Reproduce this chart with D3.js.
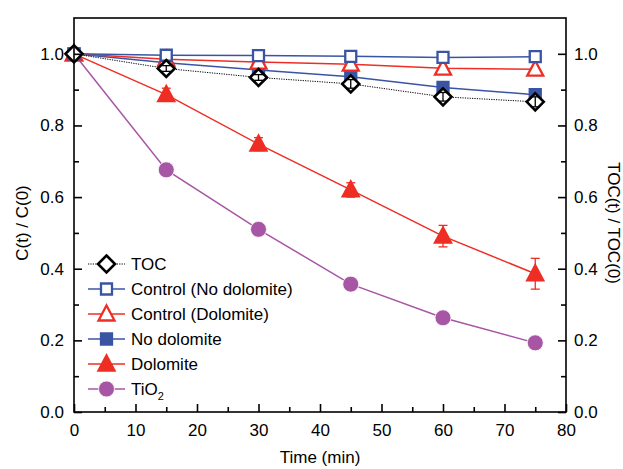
<!DOCTYPE html>
<html>
<head>
<meta charset="utf-8">
<script src="https://cdn.jsdelivr.net/npm/d3@7"></script>
<style>
  html, body { margin: 0; padding: 0; background: #fff; }
  svg { display: block; font-family: Arial, "Liberation Sans", sans-serif; }
</style>
</head>
<body>
<svg id="chart" width="623" height="469"></svg>
<script>
// Sampling times (min)
const times = [0, 15, 30, 45, 60, 75];

// Normalised concentration / TOC series
const tocValues        = [1.0, 0.959, 0.934, 0.916, 0.880, 0.866];
const tocErrors        = [0, 0.008, 0.008, 0.012, 0.012, 0.014];
const ctrlNoDolValues  = [1.0, 0.996, 0.995, 0.993, 0.990, 0.992];
const ctrlDolValues    = [1.0, 0.985, 0.977, 0.971, 0.960, 0.957];
const noDolValues      = [1.0, 0.975, 0.955, 0.936, 0.906, 0.886];
const dolValues        = [1.0, 0.886, 0.748, 0.620, 0.491, 0.386];
const dolErrors        = [0, 0.018, 0.018, 0.020, 0.030, 0.043];
const tio2Values       = [1.0, 0.676, 0.510, 0.357, 0.263, 0.193];

const xTicks = [0, 10, 20, 30, 40, 50, 60, 70, 80];
const yTicks = [0, 0.2, 0.4, 0.6, 0.8, 1.0];

const BLUE = "#3a54a4", RED = "#ee2e24", PURPLE = "#a756a5", BLACK = "#000";

const svg = d3.select("#chart");
const plotLeft = 74, plotRight = 566, plotTop = 18, plotBottom = 412;

const x = d3.scaleLinear().domain([0, 80]).range([plotLeft, plotRight]);
const y = d3.scaleLinear().domain([0, 1.1]).range([plotBottom, plotTop]);

// Series definitions (drawn in this order, TOC last so it sits on top)
const series = [
  { name: "TiO2", values: tio2Values, color: PURPLE, shape: "circle", fill: true, width: 1.5 },
  { name: "Dolomite", values: dolValues, errors: dolErrors, color: RED, shape: "triangle", fill: true, width: 1.5 },
  { name: "No dolomite", values: noDolValues, color: BLUE, shape: "square", fill: true, width: 1.5 },
  { name: "Control (Dolomite)", values: ctrlDolValues, color: RED, shape: "triangle", fill: false, width: 1.5 },
  { name: "Control (No dolomite)", values: ctrlNoDolValues, color: BLUE, shape: "square", fill: false, width: 1.5 },
  { name: "TOC", values: tocValues, errors: tocErrors, color: BLACK, shape: "diamond", fill: false, width: 1, dash: "1.2,1.2" }
];

function markerPath(shape) {
  switch (shape) {
    case "square":   return "M-5.5,-5.5H5.5V5.5H-5.5Z";
    case "triangle": return "M0,-8.5L8,6.5L-8,6.5Z";
    case "diamond":  return "M0,-8.5L8.5,0L0,8.5L-8.5,0Z";
    default: return null;
  }
}

function drawMarker(g, s, cx, cy) {
  if (s.shape === "circle") {
    g.append("circle").attr("cx", cx).attr("cy", cy).attr("r", 8)
      .attr("fill", s.color).attr("stroke", "#fff").attr("stroke-width", 0.8);
  } else {
    g.append("path").attr("d", markerPath(s.shape))
      .attr("transform", `translate(${cx},${cy})`)
      .attr("fill", s.fill ? s.color : "#fff")
      .attr("stroke", s.color)
      .attr("stroke-width", s.shape === "diamond" ? 2.6 : 2.3)
      .attr("stroke-linejoin", "miter");
  }
}

const line = d3.line().x((d, i) => x(times[i])).y(d => y(d));

const plot = svg.append("g");
series.forEach(s => {
  plot.append("path").datum(s.values)
    .attr("d", line)
    .attr("fill", "none")
    .attr("stroke", s.color)
    .attr("stroke-width", s.width)
    .attr("stroke-dasharray", s.dash || null);
});
series.forEach(s => {
  const g = plot.append("g");
  s.values.forEach((v, i) => {
    drawMarker(g, s, x(times[i]), y(v));
    if (s.errors && s.errors[i] > 0) {
      const e = s.errors[i], cx = x(times[i]);
      const eg = g.append("g").attr("stroke", s.shape === "diamond" ? BLACK : s.color).attr("stroke-width", 1.3);
      eg.append("line").attr("x1", cx).attr("x2", cx).attr("y1", y(v + e)).attr("y2", y(v - e));
      eg.append("line").attr("x1", cx - 4.5).attr("x2", cx + 4.5).attr("y1", y(v + e)).attr("y2", y(v + e));
      eg.append("line").attr("x1", cx - 4.5).attr("x2", cx + 4.5).attr("y1", y(v - e)).attr("y2", y(v - e));
    }
  });
});

// Axes with inward ticks
const fontSize = 17;
function styleAxis(g) {
  g.select(".domain").remove();
  g.selectAll("line").attr("stroke", "#000").attr("stroke-width", 1.6);
  g.selectAll("text").attr("font-size", fontSize).attr("fill", "#000");
}
const fmt = d3.format(".1f");

// Bottom
svg.append("g").attr("transform", `translate(0,${plotBottom})`)
  .call(d3.axisBottom(x).tickValues(xTicks).tickSizeInner(-8).tickSizeOuter(0).tickPadding(12))
  .call(styleAxis);
svg.append("g").attr("transform", `translate(0,${plotBottom})`)
  .call(d3.axisBottom(x).tickValues([5, 15, 25, 35, 45, 55, 65, 75]).tickSize(-5).tickFormat(""))
  .call(styleAxis);
// Left
svg.append("g").attr("transform", `translate(${plotLeft},0)`)
  .call(d3.axisLeft(y).tickValues(yTicks).tickFormat(fmt).tickSizeInner(-8).tickSizeOuter(0).tickPadding(10))
  .call(styleAxis);
svg.append("g").attr("transform", `translate(${plotLeft},0)`)
  .call(d3.axisLeft(y).tickValues([0.1, 0.3, 0.5, 0.7, 0.9]).tickSize(-5).tickFormat(""))
  .call(styleAxis);
// Right
svg.append("g").attr("transform", `translate(${plotRight},0)`)
  .call(d3.axisRight(y).tickValues(yTicks).tickFormat(fmt).tickSizeInner(-8).tickSizeOuter(0).tickPadding(8))
  .call(styleAxis);
svg.append("g").attr("transform", `translate(${plotRight},0)`)
  .call(d3.axisRight(y).tickValues([0.1, 0.3, 0.5, 0.7, 0.9]).tickSize(-5).tickFormat(""))
  .call(styleAxis);

// Frame
svg.append("rect").attr("x", plotLeft).attr("y", plotTop)
  .attr("width", plotRight - plotLeft).attr("height", plotBottom - plotTop)
  .attr("fill", "none").attr("stroke", "#000").attr("stroke-width", 1.6);

// Axis titles
svg.append("text").attr("x", (plotLeft + plotRight) / 2).attr("y", 463)
  .attr("text-anchor", "middle").attr("font-size", fontSize).text("Time (min)");
svg.append("text").attr("transform", `translate(28,${(plotTop + plotBottom) / 2 + 8}) rotate(-90)`)
  .attr("text-anchor", "middle").attr("font-size", fontSize).text("C(t) / C(0)");
svg.append("text").attr("transform", `translate(608,${(plotTop + plotBottom) / 2 + 8}) rotate(90)`)
  .attr("text-anchor", "middle").attr("font-size", fontSize).text("TOC(t) / TOC(0)");

// Legend
const legendOrder = ["TOC", "Control (No dolomite)", "Control (Dolomite)", "No dolomite", "Dolomite", "TiO2"];
const legend = svg.append("g");
legendOrder.forEach((name, i) => {
  const s = series.find(d => d.name === name);
  const ly = 264 + i * 25;
  legend.append("line").attr("x1", 88).attr("x2", 125).attr("y1", ly).attr("y2", ly)
    .attr("stroke", s.color).attr("stroke-width", s.width).attr("stroke-dasharray", s.dash || null);
  drawMarker(legend, s, 106.5, ly);
  const t = legend.append("text").attr("x", 131).attr("y", ly + 6).attr("font-size", fontSize);
  if (name === "TiO2") {
    t.append("tspan").text("TiO");
    t.append("tspan").attr("font-size", 11).attr("dy", 5).text("2");
  } else {
    t.text(name);
  }
});
</script>
</body>
</html>
